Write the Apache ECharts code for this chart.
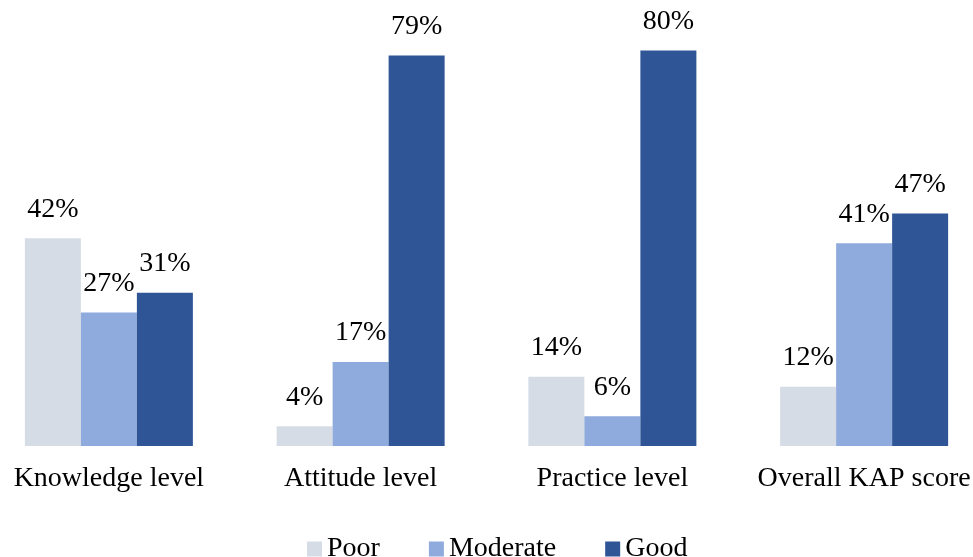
<!DOCTYPE html>
<html>
<head>
<meta charset="utf-8">
<script src="https://cdn.jsdelivr.net/npm/echarts@6/dist/echarts.min.js"></script>
<style>
html,body{margin:0;padding:0;background:#fff;}
#chart{width:973px;height:557px;}
</style>
</head>
<body>
<div id="chart"></div>
<script>
const categories = ['Knowledge level', 'Attitude level', 'Practice level', 'Overall KAP score'];
const poor = [42, 4, 14, 12];
const moderate = [27, 17, 6, 41];
const good = [31, 79, 80, 47];
const seriesNames = ['Poor', 'Moderate', 'Good'];

const FONT = '"Liberation Serif", "Times New Roman", serif';
const colors = ['#D6DCE5', '#8FAADC', '#2F5597'];

function makeSeries(name, data, color) {
  return {
    name: name,
    type: 'bar',
    data: data,
    barWidth: 56,
    barGap: '0%',
    itemStyle: { color: color },
    label: {
      show: true,
      position: 'top',
      distance: 15,
      formatter: '{c}%',
      fontFamily: FONT,
      fontSize: 28,
      color: '#000'
    },
    emphasis: { disabled: true }
  };
}

const chart = echarts.init(document.getElementById('chart'), null, { renderer: 'canvas' });
chart.setOption({
  animation: false,
  backgroundColor: '#fff',
  grid: { left: -17, right: -17, top: 1, bottom: 111, containLabel: false, outerBoundsMode: 'none' },
  legend: {
    data: seriesNames,
    top: 530,
    left: 302,
    itemWidth: 15,
    itemHeight: 15,
    itemGap: 49,
    icon: 'rect',
    textStyle: { fontFamily: FONT, fontSize: 28, color: '#000' }
  },
  xAxis: {
    type: 'category',
    data: categories,
    axisLine: { show: false },
    axisTick: { show: false },
    axisLabel: { fontFamily: FONT, fontSize: 28, color: '#000', margin: 19, interval: 0 }
  },
  yAxis: {
    type: 'value',
    min: 0,
    max: 90,
    show: false,
    splitLine: { show: false }
  },
  series: [
    makeSeries(seriesNames[0], poor, colors[0]),
    makeSeries(seriesNames[1], moderate, colors[1]),
    makeSeries(seriesNames[2], good, colors[2])
  ]
});
</script>
</body>
</html>
